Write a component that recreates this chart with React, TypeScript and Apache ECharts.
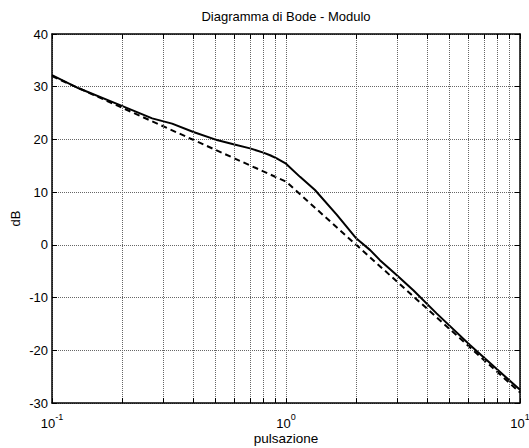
import { useEffect, useRef } from 'react';
import * as echarts from 'echarts';

const TITLE = 'Diagramma di Bode - Modulo';
const X_NAME = 'pulsazione';
const Y_NAME = 'dB';

// actual magnitude curve (omega, dB)
const exactW = [0.1, 0.13, 0.193, 0.268, 0.326, 0.402, 0.497, 0.596, 0.702, 0.8, 0.855, 0.912, 1.0, 1.148, 1.33, 1.65, 2.0, 2.29, 2.52, 2.97, 3.5, 4.4, 6.11, 10];
const exactDB = [32.2, 29.7, 26.6, 24.0, 23.0, 21.4, 20.0, 19.1, 18.3, 17.5, 17.0, 16.4, 15.4, 12.9, 10.4, 5.7, 1.2, -1.0, -2.9, -5.7, -8.6, -13.0, -19.0, -27.5];

// asymptotic approximation
const asymW = [0.1, 1, 10];
const asymDB = [32, 12, -28];

// minor log grid positions
const minorW = [0.2, 0.3, 0.4, 0.5, 0.6, 0.7, 0.8, 0.9, 2, 3, 4, 5, 6, 7, 8, 9];

const X_MIN = 0.1;
const X_MAX = 10;
const Y_MIN = -30;
const Y_MAX = 40;
const Y_STEP = 10;

const FONT = 'Liberation Sans, Arial, sans-serif';

export default function App() {
  const ref = useRef<HTMLDivElement>(null);
  useEffect(() => {
    if (!ref.current) return;
    const chart = echarts.init(ref.current, undefined, { renderer: 'svg' });
    const tickLen = (Y_MAX - Y_MIN) * 5 / 369;
    const gridLine = { color: '#666', type: 'dotted' as const, width: 1 };
    const tickStyle = { color: '#000', type: 'solid' as const, width: 1 };
    const minorMarks: any[] = [];
    minorW.forEach((w) => {
      minorMarks.push({ xAxis: w, lineStyle: gridLine });
      minorMarks.push([{ coord: [w, Y_MIN], lineStyle: tickStyle }, { coord: [w, Y_MIN + tickLen] }]);
      minorMarks.push([{ coord: [w, Y_MAX], lineStyle: tickStyle }, { coord: [w, Y_MAX - tickLen] }]);
    });
    const logLabel = (v: number) => {
      const e = Math.round(Math.log10(v));
      return `{b|10}{s|${e}}`;
    };
    const axisLine = { show: true, onZero: false, lineStyle: { color: '#000', width: 1.5 } };
    const option: any = {
      animation: false,
      textStyle: { fontFamily: FONT },
      title: {
        text: TITLE,
        left: 286,
        top: 10,
        textAlign: 'center',
        padding: 0,
        textStyle: { fontSize: 13, fontWeight: 'normal', color: '#000', fontFamily: FONT },
      },
      grid: { left: 52, right: 9, top: 34, bottom: 45, containLabel: false, outerBoundsMode: 'none' },
      xAxis: [
        {
          type: 'log',
          logBase: 10,
          min: X_MIN,
          max: X_MAX,
          position: 'bottom',
          name: X_NAME,
          nameLocation: 'middle',
          nameGap: 28,
          nameMoveOverlap: false,
          nameTextStyle: { fontSize: 13.5, color: '#000', fontFamily: FONT },
          axisLine,
          axisTick: { show: true, inside: true, length: 5, lineStyle: { color: '#000' } },
          axisLabel: {
            formatter: logLabel,
            margin: 9,
            color: '#000',
            rich: {
              b: { fontSize: 13, lineHeight: 18, verticalAlign: 'bottom', color: '#000', fontFamily: FONT },
              s: { fontSize: 9, lineHeight: 9, verticalAlign: 'top', color: '#000', fontFamily: FONT },
            },
          },
          splitLine: { show: true, lineStyle: gridLine },
        },
        {
          type: 'log',
          logBase: 10,
          min: X_MIN,
          max: X_MAX,
          position: 'top',
          axisLine,
          axisTick: { show: true, inside: true, length: 5, lineStyle: { color: '#000' } },
          axisLabel: { show: false },
          splitLine: { show: false },
        },
      ],
      yAxis: [
        {
          type: 'value',
          min: Y_MIN,
          max: Y_MAX,
          interval: Y_STEP,
          position: 'left',
          name: Y_NAME,
          nameLocation: 'middle',
          nameGap: 30,
          nameMoveOverlap: false,
          nameRotate: 90,
          nameTextStyle: { fontSize: 13, color: '#000', fontFamily: FONT },
          axisLine,
          axisTick: { show: true, inside: true, length: 5, lineStyle: { color: '#000' } },
          axisLabel: { fontSize: 13, color: '#000', margin: 4, fontFamily: FONT },
          splitLine: { show: true, lineStyle: gridLine },
        },
        {
          type: 'value',
          min: Y_MIN,
          max: Y_MAX,
          interval: Y_STEP,
          position: 'right',
          axisLine,
          axisTick: { show: true, inside: true, length: 5, lineStyle: { color: '#000' } },
          axisLabel: { show: false },
          splitLine: { show: false },
        },
      ],
      series: [
        {
          type: 'line',
          name: 'asintotico',
          data: asymW.map((w, i) => [w, asymDB[i]]),
          symbol: 'none',
          lineStyle: { color: '#000', width: 2, type: [6, 4] },
          z: 3,
          markLine: {
            silent: true,
            symbol: ['none', 'none'],
            label: { show: false },
            emphasis: { disabled: true },
            data: minorMarks,
          },
        },
        {
          type: 'line',
          name: 'reale',
          data: exactW.map((w, i) => [w, exactDB[i]]),
          symbol: 'none',
          lineStyle: { color: '#000', width: 2 },
          z: 4,
        },
      ],
    };
    chart.setOption(option);
    return () => chart.dispose();
  }, []);
  return (
    <div
      ref={ref}
      style={{ position: 'fixed', left: 0, top: 0, width: 529, height: 448, background: '#fff' }}
    />
  );
}
